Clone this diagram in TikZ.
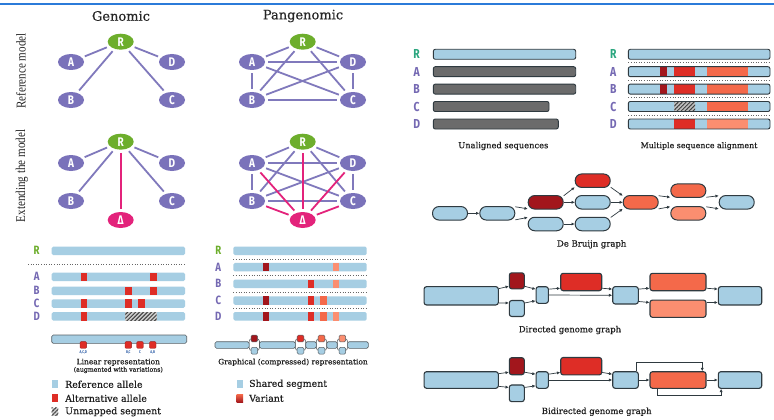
\documentclass[tikz,border=0pt]{standalone}
\usepackage{fontspec}
\setmainfont{DejaVu Serif}
\newfontfamily\capfont[FakeBold=0.4]{DejaVu Serif}
\newfontfamily\lblfont[FakeStretch=0.8]{Fira Sans}
\newfontfamily\sidefont[FakeStretch=0.82]{Liberation Serif}
\usetikzlibrary{arrows.meta,patterns.meta,shapes.geometric}
\definecolor{lb}{HTML}{A6CEE3}
\definecolor{dred}{HTML}{A2161C}
\definecolor{red1}{HTML}{DE2D26}
\definecolor{ora}{HTML}{F4694A}
\definecolor{sal}{HTML}{FB8E70}
\definecolor{gry}{HTML}{6B6B6B}
\definecolor{outl}{HTML}{2F3A40}
\definecolor{pnode}{HTML}{7A72BA}
\definecolor{pedge}{HTML}{8079BC}
\definecolor{gR}{HTML}{6DAE2C}
\definecolor{pink}{HTML}{E3237B}
\definecolor{lblp}{HTML}{7569B3}
\definecolor{tealR}{HTML}{2BA67F}
\definecolor{topblue}{HTML}{2B7BD9}
\definecolor{capblue}{HTML}{2F5FA8}
\newcommand\fs[1]{\fontsize{#1}{#1}\selectfont}
% lower-left bar and blocks
\newcommand\lbar[3]{\fill[lb, rounded corners=1.5pt] (#1,#3-4.25) rectangle (#2,#3+4.25);}
\newcommand\blk[3]{\fill[#3] (#1-3.3,#2-4.25) rectangle (#1+3.3,#2+4.25);}
\begin{document}
\begin{tikzpicture}[x=1pt,y=-1pt,
 pn/.style={ellipse, fill=pnode, minimum width=26pt, minimum height=16pt, inner sep=0pt, text=white, font=\lblfont\bfseries\fs{12.5}},
 gn/.style={pn, fill=gR},
 xn/.style={pn, fill=pink},
 pe/.style={draw=pedge, line width=1.8pt, shorten >=3pt, shorten <=3pt},
 ke/.style={draw=pink, line width=1.8pt, shorten >=3pt, shorten <=3pt},
 hdr/.style={font=\capfont\fs{13}, text=black!85},
 side/.style={font=\sidefont\fs{13.5}, text=black!85, rotate=90},
 lt/.style={font=\lblfont\bfseries\fs{12}, text=lblp, inner sep=0pt},
 lt2/.style={font=\lblfont\bfseries\fs{13}, text=lblp, inner sep=0pt},
 captxt/.style={font=\capfont\fs{8.3}, text=black!88, inner sep=0pt},
 db/.style={rectangle, rounded corners=6.5pt, minimum width=35pt, minimum height=13.5pt, draw=outl, line width=1pt, inner sep=0pt},
 gg/.style={rectangle, rounded corners=2.5pt, draw=outl, line width=1.1pt, inner sep=0pt},
 ar/.style={draw=outl, line width=0.7pt, -{Latex[length=3.2pt,width=3.2pt]}},
 hatch/.style={pattern={Lines[angle=45,distance=2.8pt,line width=1pt]}, pattern color=black!75},
 dotl/.style={draw=black!60, line width=0.6pt, dotted},
]
\useasboundingbox (0,0) rectangle (774,420);
\fill[white] (0,0) rectangle (774,420);
\draw[topblue, line width=2.5pt] (0,4) -- (774,4);

% headers
\node[hdr] (hG) at (121,16) {Genomic};
\node[hdr] (hP) at (303,16) {Pangenomic};
\node[side] (sRef) at (21,71) {Reference model};
\node[side] (sExt) at (22,176) {Extending the model};

% genomic reference
\node[gn] (R1) at (120.7,41.7) {R};
\node[pn] (A1) at (71,62) {A};
\node[pn] (D1) at (172,62) {D};
\node[pn] (B1) at (71,100) {B};
\node[pn] (C1) at (172,100) {C};
\foreach \u/\v in {R1/A1,R1/D1,R1/B1,R1/C1} \draw[pe] (\u) -- (\v);

% pangenomic reference
\node[gn] (R2) at (302.7,41.7) {R};
\node[pn] (A2) at (252,62) {A};
\node[pn] (D2) at (353,62) {D};
\node[pn] (B2) at (252,100) {B};
\node[pn] (C2) at (353,100) {C};
\foreach \u/\v in {R2/A2,R2/D2,R2/B2,R2/C2,A2/D2,A2/B2,A2/C2,D2/B2,D2/C2,B2/C2} \draw[pe] (\u) -- (\v);

% genomic extended
\node[gn] (R3) at (120.7,141.7) {R};
\node[pn] (A3) at (71,163) {A};
\node[pn] (D3) at (172,163) {D};
\node[pn] (B3) at (71,201) {B};
\node[pn] (C3) at (172,201) {C};
\node[xn] (X3) at (120.7,220) {Δ};
\foreach \u/\v in {R3/A3,R3/D3,R3/B3,R3/C3} \draw[pe] (\u) -- (\v);
\draw[ke] (R3) -- (X3);

% pangenomic extended
\node[gn] (R4) at (302.7,141.7) {R};
\node[pn] (A4) at (252,163) {A};
\node[pn] (D4) at (353,163) {D};
\node[pn] (B4) at (252,201) {B};
\node[pn] (C4) at (353,201) {C};
\node[xn] (X4) at (302.7,220) {Δ};
\foreach \u/\v in {R4/A4,R4/D4,R4/B4,R4/C4,A4/D4,A4/B4,A4/C4,D4/B4,D4/C4,B4/C4} \draw[pe] (\u) -- (\v);
\foreach \u in {R4,A4,B4,C4,D4} \draw[ke] (X4) -- (\u);

% ---------- lower-left: linear
\node[lt, text=gR] (lR) at (36.7,250.8) {R};
\node[lt] (lA) at (36.7,276.8) {A};
\node[lt] (lB) at (36.7,290.8) {B};
\node[lt] (lC) at (36.7,303.5) {C};
\node[lt] (lD) at (36.7,316.3) {D};
\lbar{51.7}{185}{250.8}
\draw[dotl] (28,264) -- (185,264);
\lbar{51.7}{185}{276.8}
\lbar{51.7}{185}{290.8}
\lbar{51.7}{185}{303.5}
\lbar{51.7}{185}{316.3}
\blk{84}{276.8}{red1}\blk{153.7}{276.8}{red1}
\blk{128.7}{290.8}{red1}\blk{153.7}{290.8}{red1}
\blk{84}{303.5}{red1}\blk{128.7}{303.5}{red1}\blk{141.3}{303.5}{red1}
\blk{84}{316.3}{red1}
\fill[black!20] (125.3,312.05) rectangle (156.7,320.55);
\fill[hatch] (125.3,312.05) rectangle (156.7,320.55);

% ---------- lower-middle: pangenomic
\node[lt, text=gR] (pR) at (218.3,250.8) {R};
\node[lt] (pA) at (218.3,267.2) {A};
\node[lt] (pB) at (218.3,283.8) {B};
\node[lt] (pC) at (218.3,300.5) {C};
\node[lt] (pD) at (218.3,316.3) {D};
\lbar{233.3}{366.7}{250.8}
\lbar{233.3}{366.7}{267.2}
\lbar{233.3}{366.7}{283.8}
\lbar{233.3}{366.7}{300.5}
\lbar{233.3}{366.7}{316.3}
\foreach \yy in {259,275,292.3,308.3} \draw[dotl] (233.3,\yy) -- (366.7,\yy);
\blk{266}{267.2}{dred}\blk{335.8}{267.2}{sal}
\blk{310.8}{283.8}{red1}\blk{335.8}{283.8}{sal}
\blk{266}{300.5}{dred}\blk{310.8}{300.5}{red1}\blk{323.3}{300.5}{ora}
\blk{266}{316.3}{dred}\blk{310.8}{316.3}{red1}\blk{323.3}{316.3}{ora}\blk{335.8}{316.3}{sal}

% linear representation
\draw[fill=lb, draw=outl!80, line width=0.6pt, rounded corners=1.5pt] (51.7,335) rectangle (186.7,343.3);
\foreach \xx/\lab in {83.3/{A,C,D},128.3/{B,C},140/C,152.7/{A,B}} {
  \draw[fill=red1, draw=red1!70!black, line width=0.3pt, rounded corners=1pt] (\xx-3.3,341.6) rectangle (\xx+3.3,348.3);
  \node[font=\lblfont\bfseries\fs{4}, text=capblue, inner sep=0pt] at (\xx,352.6) {\lab};
}
\node[captxt, font=\capfont\fs{7.5}] (linC) at (118.3,362.3) {Linear representation};
\node[captxt, font=\capfont\fs{6.2}] (linC2) at (118.3,370) {(augmented with variations)};

% graphical representation
\foreach \xx/\cc in {254.3/dred,300.5/red1,321.5/ora,342.4/sal} {
  \draw[fill=white, draw=outl!80, line width=0.6pt, rounded corners=3pt] (\xx-5.2,338.5) rectangle (\xx+5.2,350.7);
  \draw[fill=\cc, draw=outl!80, line width=0.5pt, rounded corners=1.2pt] (\xx-3.3,335.2) rectangle (\xx+3.3,341.8);
  \draw[fill=lb, draw=outl!80, line width=0.5pt, rounded corners=1.2pt] (\xx-3.3,347.4) rectangle (\xx+3.3,354);
}
\foreach \xa/\xb in {215/249.1,259.5/295.3,305.7/316.3,326.7/337.2,347.6/368.3}
  \draw[fill=lb, draw=outl!80, line width=0.6pt, rounded corners=1.5pt] (\xa,341.7) rectangle (\xb,348.3);
\node[captxt, font=\capfont\fs{7.5}] (graC) at (293,362.3) {Graphical (compressed) representation};

% legend
\fill[lb] (51.7,380.2) rectangle (58.4,388.4);
\node[captxt, font=\capfont\fs{9.4}, anchor=west] (lg1) at (65,384.3) {Reference allele};
\fill[red1] (51.7,394.2) rectangle (58.4,402.4);
\node[captxt, font=\capfont\fs{9.4}, anchor=west] (lg2) at (65,398.3) {Alternative allele};
\fill[black!20] (51.7,407.6) rectangle (58.4,415.8);
\fill[hatch] (51.7,407.6) rectangle (58.4,415.8);
\node[captxt, font=\capfont\fs{9.4}, anchor=west] (lg3) at (65,411.7) {Unmapped segment};
\fill[lb] (236.5,380.2) rectangle (243.2,388.4);
\node[captxt, font=\capfont\fs{9.4}, anchor=west] (lg4) at (249,384.3) {Shared segment};
\shade[top color=ora, bottom color=dred] (236.5,394.2) rectangle (243.2,402.4);
\node[captxt, font=\capfont\fs{9.4}, anchor=west] (lg5) at (249,398.3) {Variant};

% ---------- right: unaligned sequences
\node[lt2, text=tealR] (uR) at (416.7,54.3) {R};
\node[lt2] (uA) at (416.7,71.7) {A};
\node[lt2] (uB) at (416.7,89.1) {B};
\node[lt2] (uC) at (416.7,106.5) {C};
\node[lt2] (uD) at (416.7,124) {D};
\draw[fill=lb, draw=outl, line width=0.9pt, rounded corners=2pt] (433.3,49.3) rectangle (575.7,59.3);
\draw[fill=gry, draw=outl, line width=0.9pt, rounded corners=2pt] (433.3,66.7) rectangle (575.7,76.7);
\draw[fill=gry, draw=outl, line width=0.9pt, rounded corners=2pt] (433.3,84.1) rectangle (575.7,94.1);
\draw[fill=gry, draw=outl, line width=0.9pt, rounded corners=2pt] (433.3,101.5) rectangle (549,111.5);
\draw[fill=gry, draw=outl, line width=0.9pt, rounded corners=2pt] (433.3,119) rectangle (558.3,129);
\node[captxt] (uCap) at (503.3,146) {Unaligned sequences};

% MSA
\node[lt2, text=tealR] (mR) at (613.3,54.3) {R};
\node[lt2] (mA) at (613.3,71.7) {A};
\node[lt2] (mB) at (613.3,89.1) {B};
\node[lt2] (mC) at (613.3,106.5) {C};
\node[lt2] (mD) at (613.3,124) {D};
\foreach \yy in {54.3,71.7,89.1,106.5,124}
  \fill[lb, rounded corners=2pt] (628.3,\yy-5) rectangle (770,\yy+5);
\foreach \yy in {71.7,89.1} {
  \fill[dred] (660,\yy-5) rectangle (666.7,\yy+5);
  \fill[red1] (674.3,\yy-5) rectangle (695,\yy+5);
  \fill[ora] (706.7,\yy-5) rectangle (748.3,\yy+5);
}
\fill[black!25] (674.3,101.5) rectangle (695,111.5);
\fill[hatch] (674.3,101.5) rectangle (695,111.5);
\fill[ora] (706.7,101.5) rectangle (748.3,111.5);
\fill[red1] (674.3,119) rectangle (695,129);
\fill[sal] (706.7,119) rectangle (748.3,129);
\foreach \yy in {54.3,71.7,89.1,106.5,124}
  \draw[draw=outl, line width=0.9pt, rounded corners=2pt] (628.3,\yy-5) rectangle (770,\yy+5);
\foreach \yy in {62.7,80,97.7,115} \draw[dotl] (628.3,\yy) -- (770,\yy);
\node[captxt, font=\capfont\fs{7.9}] (mCap) at (699,146) {Multiple sequence alignment};

% De Bruijn graph
\node[db, fill=lb] (n1) at (450,213.3) {};
\node[db, fill=lb] (n2) at (497.3,213.3) {};
\node[db, fill=dred] (n3) at (545.7,202.3) {};
\node[db, fill=red1] (n4) at (592.7,180.7) {};
\node[db, fill=lb] (n5) at (592.7,202.3) {};
\node[db, fill=lb] (n6) at (545.7,224) {};
\node[db, fill=lb] (n7) at (592.7,224) {};
\node[db, fill=ora] (n8) at (640.7,202.3) {};
\node[db, fill=ora] (n9) at (688.3,190.7) {};
\node[db, fill=sal] (n10) at (688.3,213.3) {};
\node[db, fill=lb] (n11) at (736.7,202.3) {};
\draw[ar] (n1) -- (n2);
\draw[ar] (n2.20) -- (n3.200);
\draw[ar] (n2.-20) -- (n6.160);
\draw[ar] (n3.20) -- (n4.200);
\draw[ar] (n3) -- (n5);
\draw[ar] (n6) -- (n7);
\draw[ar] (n4.-20) -- (n8.160);
\draw[ar] (n5) -- (n8);
\draw[ar] (n7.20) -- (n8.200);
\draw[ar] (n8.20) -- (n9.200);
\draw[ar] (n8.-20) -- (n10.160);
\draw[ar] (n9.-20) -- (n11.160);
\draw[ar] (n10.20) -- (n11.200);
\node[captxt, font=\capfont\fs{8.5}] (dbCap) at (591.7,244.3) {De Bruijn graph};

% Directed genome graph
\node[gg, fill=lb, minimum width=74.3pt, minimum height=18.3pt] (g1) at (461.2,295.8) {};
\node[gg, fill=dred, minimum width=15pt, minimum height=16pt] (g2) at (516.8,280.8) {};
\node[gg, fill=lb, minimum width=15pt, minimum height=16pt] (g3) at (516.8,308.5) {};
\node[gg, fill=lb, minimum width=12.3pt, minimum height=16.6pt] (g4) at (542.2,295) {};
\node[gg, fill=red1, minimum width=41pt, minimum height=17.4pt] (g5) at (581.2,282) {};
\node[gg, fill=lb, minimum width=25.6pt, minimum height=17.3pt] (g6) at (625.5,295.3) {};
\node[gg, fill=ora, minimum width=56pt, minimum height=17.4pt] (g7) at (678,282) {};
\node[gg, fill=sal, minimum width=56pt, minimum height=17.3pt] (g8) at (678,308.7) {};
\node[gg, fill=lb, minimum width=43.4pt, minimum height=18.3pt] (g9) at (740,295.8) {};
\draw[ar] ([yshift=-2.5pt]g1.north east) -- ([yshift=3pt]g2.south west);
\draw[ar] ([yshift=2.5pt]g1.south east) -- ([yshift=-3pt]g3.north west);
\draw[ar] ([yshift=3pt]g2.south east) -- ([yshift=-3pt]g4.north west);
\draw[ar] ([yshift=-3pt]g3.north east) -- ([yshift=3pt]g4.south west);
\draw[ar] ([yshift=-3pt]g4.north east) -- ([yshift=3pt]g5.south west);
\draw[ar] (g4.east) -- (g6.west);
\draw[ar] ([yshift=3pt]g5.south east) -- ([yshift=-3pt]g6.north west);
\draw[ar] ([yshift=-3pt]g6.north east) -- ([yshift=3pt]g7.south west);
\draw[ar] ([yshift=3pt]g6.south east) -- ([yshift=-3pt]g8.north west);
\draw[ar] ([yshift=3pt]g7.south east) -- ([yshift=-3pt]g9.north west);
\draw[ar] ([yshift=-3pt]g8.north east) -- ([yshift=3pt]g9.south west);
\node[captxt, font=\capfont\fs{8.5}] (dgCap) at (570,330) {Directed genome graph};

% Bidirected genome graph
\node[gg, fill=lb, minimum width=74.3pt, minimum height=16.6pt] (b1) at (461.2,380) {};
\node[gg, fill=dred, minimum width=15pt, minimum height=17pt] (b2) at (516.8,366.2) {};
\node[gg, fill=lb, minimum width=15pt, minimum height=16.7pt] (b3) at (516.8,393.3) {};
\node[gg, fill=lb, minimum width=12.3pt, minimum height=16.6pt] (b4) at (542.2,380) {};
\node[gg, fill=red1, minimum width=41pt, minimum height=17.4pt] (b5) at (581.2,366.2) {};
\node[gg, fill=lb, minimum width=25.6pt, minimum height=16.6pt] (b6) at (625.5,380) {};
\node[gg, fill=ora, minimum width=56pt, minimum height=16.6pt] (b7) at (678,380) {};
\node[gg, fill=lb, minimum width=43.4pt, minimum height=16.6pt] (b9) at (740,380) {};
\draw[ar] ([yshift=-2.5pt]b1.north east) -- ([yshift=3pt]b2.south west);
\draw[ar] ([yshift=2.5pt]b1.south east) -- ([yshift=-3pt]b3.north west);
\draw[ar] ([yshift=3pt]b2.south east) -- ([yshift=-3pt]b4.north west);
\draw[ar] ([yshift=-3pt]b3.north east) -- ([yshift=3pt]b4.south west);
\draw[ar] ([yshift=-3pt]b4.north east) -- ([yshift=3pt]b5.south west);
\draw[ar] (b4.east) -- (b6.west);
\draw[ar] ([yshift=3pt]b5.south east) -- ([yshift=-3pt]b6.north west);
\draw[ar] (b6.east) -- (b7.west);
\draw[ar] (b7.east) -- (b9.west);
\draw[ar] ([xshift=-3pt]b6.north east) -- ++(0,-8.4) -| ([xshift=-4.3pt]b7.north east);
\draw[ar] ([xshift=8.3pt]b7.south west) -- ++(0,6.7) -| ([xshift=3.4pt]b9.south west);
\node[captxt, font=\capfont\fs{8.5}] (bgCap) at (596.7,411.7) {Bidirected genome graph};
\end{tikzpicture}
\end{document}
